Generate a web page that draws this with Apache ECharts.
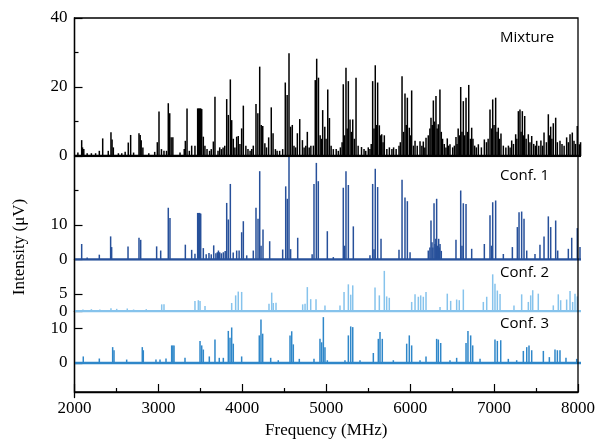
<!DOCTYPE html>
<html><head><meta charset="utf-8">
<script src="https://cdn.jsdelivr.net/npm/echarts@6/dist/echarts.min.js"></script>
<style>html,body{margin:0;padding:0;background:#fff}#c{width:598px;height:444px}</style>
</head><body><div id="c"></div>
<script>
// ---------- data ----------
const freqRange = [2000, 8000];
const xTickStep = 1000;
const xTitle = 'Frequency (MHz)';
const yTitle = 'Intensity (\u03bcV)';
const panelNames = ['Mixture', 'Conf. 1', 'Conf. 2', 'Conf. 3'];
const panelRanges = [[0, 40], [0, 30], [0, 15], [-10, 15]];
const panelLabelTicks = [[0, 20, 40], [0, 10], [0, 5], [0, 10]];

// [frequency MHz, intensity uV]
const mixture = [
 [2040,1],[2085,4.6],[2095,2.5],[2110,2],[2150,0.8],[2200,0.8],[2250,0.8],[2294,1.5],[2334,5.1],[2400,1.5],[2432,6.9],[2445,4.8],[2460,2.5],
 [2520,0.8],[2560,0.8],[2600,1.2],[2637,3.9],[2665,6.1],[2700,1],[2764,6.6],[2778,6.1],[2790,4.6],[2810,2.5],[2880,0.8],[2950,1.2],[2981,4.0],[3001,12.9],
 [3030,2],[3060,1.5],[3090,1.5],[3111,15.3],[3128,12.4],[3145,5.4],[3165,5.4],[3250,1],[3300,2],[3313,4.4],[3333,13.8],[3360,1.5],[3388,3],[3427,3],
 [3459,13.8],[3471,13.8],[3483,13.8],[3495,13.8],[3507,13.6],[3526,5.6],[3545,3],[3570,2],[3600,1.5],[3620,2],[3645,4.2],[3664,17.2],
 [3700,1.5],[3720,2.5],[3740,2],[3760,2.5],[3780,3],[3803,16.5],[3822,11.9],[3846,22.2],[3862,10.4],[3881,5],[3900,2.5],[3921,5.6],[3940,5.8],[3960,3.5],[3980,8],
 [4000,14.6],[4030,3],[4055,2],[4080,1.5],[4100,2],[4118,3],[4150,15.1],[4172,12.4],[4194,25.9],[4212,9],[4230,8.7],[4255,3.7],[4275,2.5],
 [4300,5.4],[4331,14.1],[4352,6.6],[4380,2],[4400,1.5],[4430,1.5],[4466,2],[4497,21.3],[4519,17.7],[4541,29.8],[4560,8.5],[4580,9],[4600,3],[4620,2.5],
 [4640,6.6],[4668,10.7],[4700,4.6],[4720,2.5],[4740,3],[4758,7],[4780,2.5],[4800,3],[4830,3],[4852,22],[4869,28.2],[4890,22.7],[4910,6],[4925,5],[4940,13.3],
 [4965,8.5],[4980,5],[5000,19.3],[5020,11],[5040,3],[5066,2],[5100,2],[5125,1.5],[5150,2.5],[5170,4],[5184,20.8],[5200,6],[5216,25.6],[5230,8],[5244,21.7],[5264,10.6],
 [5280,7],[5296,10.6],[5315,5],[5335,22.7],[5360,3],[5400,2.6],[5430,2],[5450,1.5],[5480,2.5],[5500,2],[5515,3.5],[5532,21.7],[5548,8],[5563,26.3],[5578,9],[5591,21.3],[5611,8.9],[5625,6],[5639,6.3],
 [5655,4],[5670,6],[5700,2],[5730,2.5],[5760,2],[5780,2.5],[5810,2],[5844,3],[5860,4],[5880,23.1],[5898,7],[5915,18.1],[5930,9],[5943,16.9],[5966,8.2],[5980,6],[5994,19],[6015,3],[6034,4.4],
 [6060,3],[6093,4.3],[6115,3],[6132,4.2],[6150,2.5],[6164,5.3],[6191,6],[6210,8],[6223,11.1],[6238,9],[6251,16.1],[6265,10],[6282,17.4],[6296,8],[6310,9.2],[6329,19.3],[6345,7],[6360,5],[6380,3.5],[6400,2.5],[6416,5.1],
 [6430,3],[6448,3.4],[6480,2.5],[6500,3],[6519,5.5],[6532,3.5],[6545,8],[6560,6],[6575,20],[6590,7],[6606,15.9],[6622,6],[6638,16.9],[6655,7],[6670,20.6],[6690,5],[6705,8.2],[6720,5],[6740,3],[6760,2.5],[6784,3.4],[6820,2.5],[6855,4.8],
 [6880,4],[6900,5],[6922,13.5],[6940,8],[6954,16.4],[6970,9],[6989,16.9],[7005,7],[7020,8.2],[7035,5],[7052,6.5],[7080,3],[7110,2.5],[7140,3],[7160,2.5],[7179,4.5],[7200,3.5],[7226,6.3],[7240,5],[7258,13],[7277,13.5],[7290,7],[7305,13],
 [7320,6],[7333,11.6],[7350,5],[7376,6.3],[7395,4],[7416,5.8],[7440,3.5],[7460,3],[7475,4.4],[7500,3],[7525,4.5],[7545,3],[7562,6.8],[7590,4],[7613,12.1],[7625,6],[7641,8.5],[7655,5],[7672,9.5],[7700,11.1],[7720,4],[7751,4.4],
 [7775,3.5],[7800,3],[7830,5.4],[7850,4],[7870,6.3],[7897,6.8],[7917,4.4],[7935,3.5],[7956,8.7],[7980,3.4],[7995,4]
];
const conf1 = [
 [2085,4.5],[2150,0.6],[2294,1.4],[2428,6.7],[2440,3.6],[2634,3.8],[2764,6.3],[2784,5.7],[2973,3.8],[3021,2.6],[3111,15],
 [3131,12],[3313,4.3],[3388,2.8],[3427,1.7],[3459,13.5],[3471,13.5],[3483,13.5],[3495,13.3],[3526,3.3],[3560,1.5],[3593,1.9],[3620,1.5],
 [3649,4.1],[3675,1.8],[3692,2.1],[3705,2.6],[3720,2.1],[3740,1.8],[3763,2.1],[3785,2.5],[3803,16.4],[3822,11.6],[3846,21.9],[3880,2],[3921,2.6],[3950,2.6],[3980,7.9],
 [4000,11.1],[4040,1.2],[4118,2.6],[4150,15],[4174,11.8],[4194,25.6],[4210,4],[4233,8.7],[4312,5.3],[4466,2.9],[4502,21.2],[4521,17.6],
 [4541,30],[4560,3],[4644,6.3],[4815,1.5],[4837,21.9],[4865,28],[4888,22.7],[4995,8.2],[5066,0.7],[5184,20.8],[5200,4],[5216,25.6],[5244,21.6],
 [5303,9.6],[5500,1.2],[5532,21.9],[5548,3],[5563,26.3],[5591,21],[5631,6],[5844,2.8],[5880,23.1],[5915,18],[5943,16.9],
 [5975,2.1],[6191,2.6],[6210,3.5],[6223,11.3],[6235,5],[6245,3.5],[6259,16.3],[6270,4.5],[6280,6],[6290,17.6],[6300,4],[6314,6],[6322,3.5],[6330,4.5],[6345,2.5],
 [6519,5.7],[6575,20],[6590,4],[6606,16.3],[6638,16.1],[6705,3.1],[6855,4.5],[6922,12.8],[6940,4],[6954,16.6],[6989,17.1],[7080,1.6],
 [7187,3.6],[7246,9.4],[7266,13.7],[7297,13.9],[7325,11.8],[7357,2.6],[7455,1.6],[7514,4.3],[7562,6.7],[7613,12.5],
 [7641,9.4],[7700,11.3],[7724,2.6],[7850,3.1],[7890,6.3],[7956,9.1],[7988,3.6]
];
const conf2 = [
 [2100,0.5],[2200,0.6],[2300,0.5],[2432,0.9],[2500,0.7],[2625,0.8],[2700,0.5],[2850,0.6],[3033,2.0],[3060,2.0],
 [3427,3.0],[3467,3.2],[3487,3.0],[3546,1.5],[3862,2.4],[3909,4.6],[3940,5.7],[3980,5.6],[4304,2.2],[4336,5.4],
 [4355,2.4],[4387,2.5],[4703,2.0],[4731,2.2],[4758,7.0],[4798,3.5],[4861,3.5],[4967,1.7],[5145,1.7],[5193,5.6],
 [5244,7.8],[5272,4.8],[5296,7.5],[5560,6.9],[5611,4.6],[5670,11.7],[5698,4.3],[5729,3.9],[5994,2.7],[6034,4.9],
 [6073,4.2],[6101,4.6],[6132,4.2],[6164,5.6],[6330,1.2],[6416,5.1],[6456,3.0],[6527,3.4],[6558,3.2],[6606,6.3],
 [6843,2.7],[6883,4.2],[6954,10.7],[6981,8.0],[7009,6.0],[7041,5.0],[7206,1.7],[7297,4.9],[7376,2.7],[7404,4.6],
 [7428,6.1],[7494,5.1],[7672,1.7],[7731,4.9],[7759,3.2],[7830,3.4],[7870,5.9],[7901,2.7],[7929,5.1],[7956,4.3]
];
const conf3 = [
 [2104,1.9],[2294,1.3],[2452,4.6],[2468,3.7],[2618,1],[2803,4.6],[2815,3.7],[2965,1],[3013,1],[3084,1.3],
 [3151,5.1],[3165,5.1],[3179,5.1],[3309,1.5],[3487,6.4],[3507,5.1],[3526,3.9],[3597,1.9],[3664,6.8],[3715,1.5],
 [3763,1.5],[3822,9.3],[3842,7.3],[3862,10.3],[3881,5.6],[3980,1.9],[4189,8],[4209,12.6],[4229,8.5],[4324,1.5],
 [4414,0.8],[4553,8],[4573,9.2],[4592,5.4],[4663,1.2],[4837,1.2],[4908,7],[4928,6],[4948,13.3],[4967,4.6],
 [4995,0.8],[5204,0.8],[5244,8],[5272,10.6],[5296,10.4],[5382,0.8],[5540,2.9],[5599,7],[5619,9],[5646,7],
 [5777,0.8],[5935,5.6],[5966,8],[5994,5.1],[6093,0.8],[6164,1.9],[6290,7],[6310,6.8],[6338,5.8],[6448,0.8],
 [6527,1.5],[6638,5.8],[6661,9.3],[6693,8],[6717,5.1],[6804,1.2],[6981,6.8],[7009,6.4],[7049,6.6],[7139,1.2],
 [7238,0.8],[7317,3.5],[7357,4.6],[7384,5.1],[7416,3.7],[7554,3.5],[7625,1.7],[7692,3.9],[7720,3.7],[7751,3.7],
 [7822,1.5],[7949,1.2]
];
const panelData = [mixture, conf1, conf2, conf3];
const panelColors = ['#000000', '#27509a', '#86c3ec', '#2f87c9'];

// ---------- layout ----------
const L = 74.5, R = 17, TOP = 18, BOT = 46.5;
const plotH = 444 - TOP - BOT;
const totalUnits = panelRanges.reduce((s, r) => s + (r[1] - r[0]), 0);
const grids = [], xAxes = [], yAxes = [], series = [];
let cur = TOP;
const serif = 'Liberation Serif';
const tickLabelStyle = { fontFamily: serif, fontSize: 17, color: '#000' };
const mkTick = () => ({ color: '#000', width: 1.2 });

panelRanges.forEach((rg, i) => {
  const h = plotH * (rg[1] - rg[0]) / totalUnits;
  grids.push({ left: L, right: R, top: cur, height: h, containLabel: false });
  cur += h;
  xAxes.push({
    type: 'value', gridIndex: i, min: freqRange[0], max: freqRange[1], interval: xTickStep, show: false
  });
  const labs = panelLabelTicks[i];
  const step = i === 0 ? 20 : (i === 2 ? 5 : 10);
  yAxes.push({
    type: 'value', gridIndex: i, min: rg[0], max: rg[1], interval: step,
    axisLine: { show: true, onZero: false, lineStyle: { color: '#000', width: 1.3 } }, splitLine: { show: false },
    axisTick: { show: true, inside: true, length: 8, customValues: labs, lineStyle: mkTick() },
    minorTick: { show: i === 0, splitNumber: 2, length: 4, lineStyle: mkTick() },
    axisLabel: Object.assign({ margin: 7, customValues: labs,
      formatter: v => (labs.indexOf(v) >= 0 ? String(v) : '') }, tickLabelStyle)
  });
  series.push({
    type: 'bar', xAxisIndex: i, yAxisIndex: i, data: panelData[i], barWidth: 1.5,
    itemStyle: { color: panelColors[i] }, clip: true, silent: true, z: 3
  });
  series.push({
    type: 'line', xAxisIndex: i, yAxisIndex: i, showSymbol: false, silent: true, z: 4,
    data: [[freqRange[0], 0], [freqRange[1], 0]],
    lineStyle: { color: panelColors[i], width: 2.4 }
  });
});
// short (minor) tick at 20 on Conf. 1 axis
yAxes.push({
  type: 'value', gridIndex: 1, min: panelRanges[1][0], max: panelRanges[1][1], interval: 10, position: 'left',
  axisLine: { show: false, onZero: false }, splitLine: { show: false }, axisLabel: { show: false },
  axisTick: { show: true, inside: true, length: 4, customValues: [20], lineStyle: mkTick() }
});
// outer frame with the shared frequency axis
grids.push({ left: L, right: R, top: TOP, bottom: BOT, show: true, borderColor: '#000', borderWidth: 1.3,
  backgroundColor: 'rgba(0,0,0,0)', z: 10 });
xAxes.push({
  type: 'value', gridIndex: 4, min: freqRange[0], max: freqRange[1], interval: xTickStep, position: 'bottom', z: 20,
  axisLine: { show: true, onZero: false, lineStyle: { color: '#000', width: 1.3 } },
  splitLine: { show: false },
  axisTick: { show: true, inside: true, interval: 0, length: 8, lineStyle: mkTick() },
  minorTick: { show: true, splitNumber: 2, length: 4, lineStyle: mkTick() },
  axisLabel: Object.assign({ margin: 8, formatter: v => String(v) }, tickLabelStyle),
  name: xTitle, nameLocation: 'middle', nameGap: 30,
  nameTextStyle: { fontFamily: serif, fontSize: 17, color: '#000' }
});
yAxes.push({ type: 'value', gridIndex: 4, show: false, min: 0, max: 1 });

// panel label positions (pixel centers)
const labelY = [40, 178, 275, 326];
const graphic = panelNames.map((n, i) => ({
  type: 'text', left: 500, top: labelY[i] - 10,
  style: { text: n, font: '15px "Open Sans"', fill: '#000' }
}));
graphic.push({
  type: 'text', x: 20, y: 247, rotation: Math.PI / 2,
  style: { text: yTitle, font: '17px "Liberation Serif"', fill: '#000', align: 'center', verticalAlign: 'middle' }
});

const chart = echarts.init(document.getElementById('c'), null, { renderer: 'canvas' });
chart.setOption({
  animation: false, backgroundColor: '#fff',
  grid: grids, xAxis: xAxes, yAxis: yAxes, series: series, graphic: graphic
});
</script></body></html>
